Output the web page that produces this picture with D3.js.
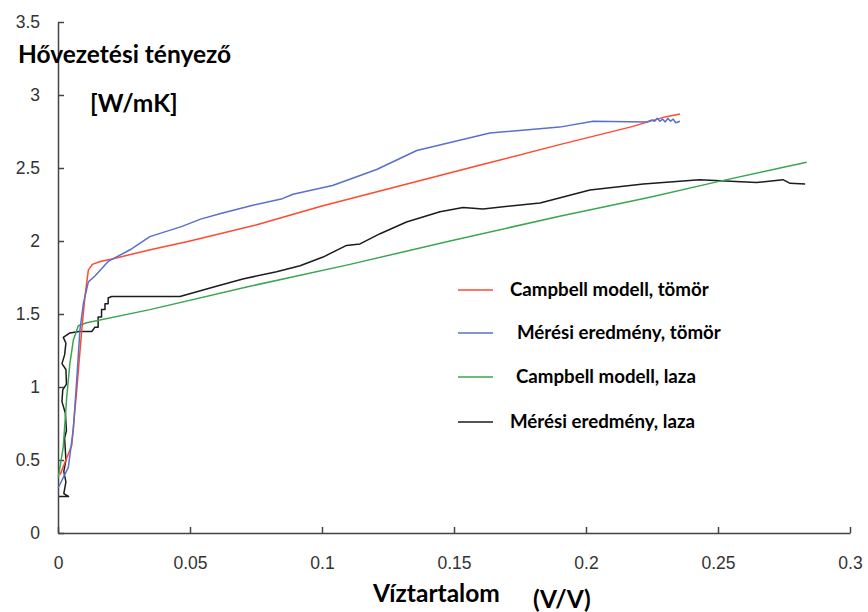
<!DOCTYPE html>
<html>
<head>
<meta charset="utf-8">
<script src="https://cdn.jsdelivr.net/npm/d3@7"></script>
<style>
  body { margin: 0; background: #fff; }
  .tick text { font-family: "Liberation Sans", Arial, sans-serif; font-size: 17.5px; fill: #333; }
  .axis path, .axis line { stroke: #444; stroke-width: 1.5; }
  .title { font-family: Lato, "Open Sans", sans-serif; font-weight: bold; fill: #000; font-size: 24.5px; }
  .leg { font-family: Lato, "Open Sans", sans-serif; font-weight: bold; font-size: 18.7px; fill: #000; }
  .curve { fill: none; stroke-width: 1.5; stroke-linejoin: round; }
</style>
</head>
<body>
<svg width="868" height="612"></svg>
<script>
var xTicks = [0, 0.05, 0.1, 0.15, 0.2, 0.25, 0.3];
var yTicks = [0, 0.5, 1, 1.5, 2, 2.5, 3, 3.5];

// Campbell modell, tömör
var campbellTomor = [
    [0.0008, 0.40], [0.003, 0.50], [0.0052, 0.60], [0.0071, 0.98], [0.009, 1.39],
    [0.0102, 1.62], [0.0115, 1.80], [0.013, 1.84], [0.016, 1.86], [0.02, 1.875],
    [0.035, 1.94], [0.05, 2.00], [0.075, 2.11], [0.1, 2.24], [0.13, 2.38],
    [0.16, 2.52], [0.19, 2.66], [0.2167, 2.78], [0.23, 2.85], [0.2356, 2.87]
];
// Mérési eredmény, tömör
var meresTomor = [
    [0.0001, 0.31], [0.0039, 0.45], [0.0058, 0.71], [0.0071, 1.05], [0.0083, 1.39],
    [0.0096, 1.57], [0.0115, 1.72], [0.014, 1.76], [0.019, 1.86], [0.0273, 1.94],
    [0.0348, 2.03], [0.047, 2.10], [0.054, 2.15], [0.062, 2.19], [0.0727, 2.24],
    [0.085, 2.29], [0.089, 2.32], [0.104, 2.38], [0.1207, 2.49], [0.1359, 2.62],
    [0.1636, 2.74], [0.19, 2.78], [0.2027, 2.82], [0.223, 2.815], [0.225, 2.83],
    [0.226, 2.82], [0.227, 2.84], [0.228, 2.82], [0.229, 2.835], [0.230, 2.815],
    [0.231, 2.84], [0.232, 2.82], [0.233, 2.835], [0.234, 2.81], [0.2356, 2.82]
];
// Campbell modell, laza
var campbellLaza = [
    [0.0001, 0.38], [0.002, 0.59], [0.0033, 0.93], [0.0045, 1.16], [0.0058, 1.32],
    [0.0077, 1.42], [0.0109, 1.44], [0.0348, 1.53], [0.0727, 1.69], [0.1106, 1.84],
    [0.1485, 2.00], [0.19, 2.17], [0.2242, 2.30], [0.2508, 2.41], [0.2735, 2.50],
    [0.2836, 2.54]
];
// Mérési eredmény, laza
var meresLaza = [
    [0.0004, 0.25], [0.004, 0.25], [0.0022, 0.27], [0.003, 0.35], [0.0022, 0.42],
    [0.003, 0.50], [0.0025, 0.65], [0.0032, 0.70], [0.0028, 0.82], [0.0015, 0.90],
    [0.0018, 0.98], [0.0032, 1.02], [0.003, 1.12], [0.0015, 1.16], [0.0025, 1.22],
    [0.003, 1.30], [0.002, 1.34], [0.0045, 1.37], [0.008, 1.38], [0.0128, 1.38],
    [0.014, 1.41], [0.0152, 1.41], [0.0152, 1.48], [0.0165, 1.48], [0.0165, 1.53],
    [0.0178, 1.53], [0.0178, 1.57], [0.019, 1.57], [0.019, 1.61], [0.0203, 1.62],
    [0.0462, 1.62], [0.060, 1.69], [0.070, 1.74], [0.0828, 1.79], [0.0917, 1.83],
    [0.1004, 1.89], [0.1093, 1.97], [0.1144, 1.98], [0.122, 2.05], [0.132, 2.13],
    [0.1447, 2.20], [0.1534, 2.23], [0.161, 2.22], [0.1826, 2.26], [0.2015, 2.35],
    [0.2217, 2.39], [0.243, 2.42], [0.2646, 2.40], [0.2746, 2.42], [0.2773, 2.395],
    [0.283, 2.39]
];

var seriesNames = ["Campbell modell, tömör", "Mérési eredmény, tömör", "Campbell modell, laza", "Mérési eredmény, laza"];
var seriesData = [campbellTomor, meresTomor, campbellLaza, meresLaza];
var seriesColors = ["#ff4a2e", "#5b6fcb", "#3ba552", "#1c1c1c"];

var svg = d3.select("svg");

var x = d3.scaleLinear().domain([0, 0.3]).range([58, 850]);
var y = d3.scaleLinear().domain([0, 3.5]).range([533, 22]);

// axes, ticks point inward
svg.append("g")
    .attr("class", "axis")
    .attr("transform", "translate(0," + y(0) + ")")
    .call(d3.axisBottom(x).tickValues(xTicks).tickSizeInner(-6).tickSizeOuter(0).tickPadding(24)
        .tickFormat(function (d) { return String(d); }));

svg.append("g")
    .attr("class", "axis")
    .attr("transform", "translate(" + x(0) + ",0)")
    .call(d3.axisLeft(y).tickValues(yTicks).tickSizeInner(-6).tickSizeOuter(0).tickPadding(18)
        .tickFormat(function (d) { return String(d); }));

var line = d3.line()
    .x(function (d) { return x(d[0]); })
    .y(function (d) { return y(d[1]); });

// draw black/green first so red/blue sit on top like the original
[3, 2, 0, 1].forEach(function (i) {
    svg.append("path")
        .attr("class", "curve")
        .attr("stroke", seriesColors[i])
        .attr("d", line(seriesData[i]));
});

// axis titles
svg.append("text").attr("class", "title").attr("x", 18).attr("y", 63).text("Hővezetési tényező");
svg.append("text").attr("class", "title").attr("x", 90).attr("y", 112).text("[W/mK]");
svg.append("text").attr("class", "title").attr("x", 373).attr("y", 602).text("Víztartalom");
svg.append("text").attr("class", "title").attr("x", 533).attr("y", 608).text("(V/V)");

// legend
var legX = [510, 517, 516, 510];
var legY = [290, 333, 377, 422];
seriesNames.forEach(function (name, i) {
    svg.append("line")
        .attr("x1", 458).attr("x2", 493)
        .attr("y1", legY[i]).attr("y2", legY[i])
        .attr("stroke", seriesColors[i])
        .attr("stroke-width", 1.5);
    svg.append("text")
        .attr("class", "leg")
        .attr("x", legX[i])
        .attr("y", legY[i] + 6)
        .text(name);
});
</script>
</body>
</html>
